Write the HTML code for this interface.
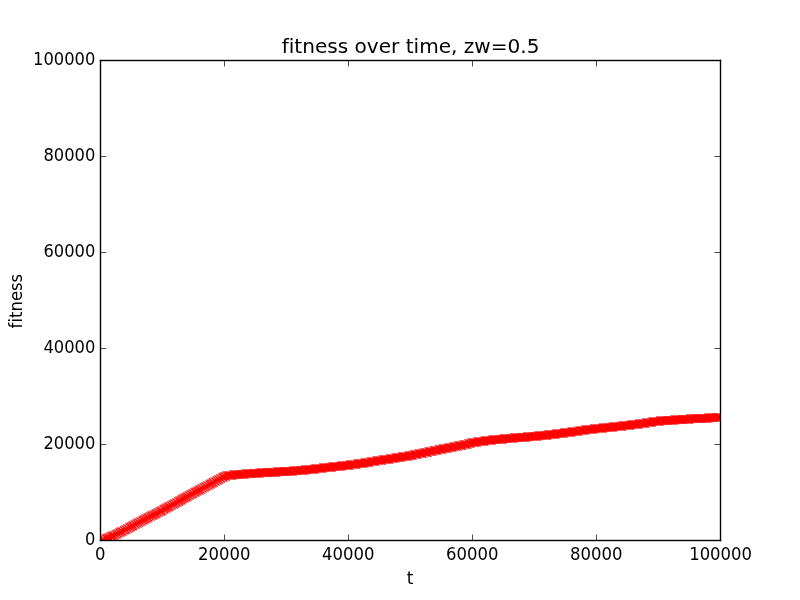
<!DOCTYPE html>
<html><head><meta charset="utf-8"><title>fitness over time, zw=0.5</title>
<style>html,body{margin:0;padding:0;background:#fff;overflow:hidden}svg{display:block;will-change:transform}text{font-family:'DejaVu Sans','Liberation Sans',sans-serif;fill:#000;font-variant-ligatures:none;font-feature-settings:'liga' 0,'kern' 1}</style>
</head><body>
<svg width="800" height="600" viewBox="0 0 800 600">
<rect width="800" height="600" fill="#fff"/>
<defs><clipPath id="c"><rect x="100" y="60" width="620" height="480"/></clipPath><g id="s" fill="#f00"><path d="M0 0h1v1h-1z"/><path d="M-3 -3h1v1h-1zM3 -3h1v1h-1zM-2 -2h1v1h-1zM2 -2h1v1h-1zM-1 -1h1v1h-1zM1 -1h1v1h-1zM-1 1h1v1h-1zM1 1h1v1h-1zM-2 2h1v1h-1zM2 2h1v1h-1zM-3 3h1v1h-1zM3 3h1v1h-1z" fill-opacity="0.7451"/><path d="M-4 -4h1v1h-1zM4 -4h1v1h-1zM-4 4h1v1h-1zM4 4h1v1h-1z" fill-opacity="0.3725"/><path d="M0 -1h1v1h-1zM-1 0h1v1h-1zM1 0h1v1h-1zM0 1h1v1h-1z" fill-opacity="0.2471"/><path d="M-3 -4h1v1h-1zM3 -4h1v1h-1zM-4 -3h1v1h-1zM-2 -3h1v1h-1zM2 -3h1v1h-1zM4 -3h1v1h-1zM-3 -2h1v1h-1zM-1 -2h1v1h-1zM1 -2h1v1h-1zM3 -2h1v1h-1zM-2 -1h1v1h-1zM2 -1h1v1h-1zM-2 1h1v1h-1zM2 1h1v1h-1zM-3 2h1v1h-1zM-1 2h1v1h-1zM1 2h1v1h-1zM3 2h1v1h-1zM-4 3h1v1h-1zM-2 3h1v1h-1zM2 3h1v1h-1zM4 3h1v1h-1zM-3 4h1v1h-1zM3 4h1v1h-1z" fill-opacity="0.1255"/></g></defs>
<g clip-path="url(#c)" shape-rendering="crispEdges"><use href="#s" x="100" y="541"/><use href="#s" x="101" y="540"/><use href="#s" x="101" y="540"/><use href="#s" x="102" y="540"/><use href="#s" x="102" y="539"/><use href="#s" x="103" y="539"/><use href="#s" x="104" y="539"/><use href="#s" x="104" y="539"/><use href="#s" x="105" y="538"/><use href="#s" x="106" y="538"/><use href="#s" x="106" y="538"/><use href="#s" x="107" y="538"/><use href="#s" x="107" y="537"/><use href="#s" x="108" y="537"/><use href="#s" x="109" y="537"/><use href="#s" x="109" y="537"/><use href="#s" x="110" y="536"/><use href="#s" x="111" y="536"/><use href="#s" x="111" y="536"/><use href="#s" x="112" y="536"/><use href="#s" x="112" y="535"/><use href="#s" x="113" y="535"/><use href="#s" x="114" y="535"/><use href="#s" x="114" y="535"/><use href="#s" x="115" y="534"/><use href="#s" x="116" y="534"/><use href="#s" x="116" y="534"/><use href="#s" x="117" y="533"/><use href="#s" x="117" y="533"/><use href="#s" x="118" y="533"/><use href="#s" x="119" y="532"/><use href="#s" x="119" y="532"/><use href="#s" x="120" y="532"/><use href="#s" x="120" y="531"/><use href="#s" x="121" y="531"/><use href="#s" x="122" y="531"/><use href="#s" x="122" y="531"/><use href="#s" x="123" y="530"/><use href="#s" x="124" y="530"/><use href="#s" x="124" y="530"/><use href="#s" x="125" y="529"/><use href="#s" x="125" y="529"/><use href="#s" x="126" y="529"/><use href="#s" x="127" y="528"/><use href="#s" x="127" y="528"/><use href="#s" x="128" y="528"/><use href="#s" x="129" y="527"/><use href="#s" x="129" y="527"/><use href="#s" x="130" y="527"/><use href="#s" x="130" y="526"/><use href="#s" x="131" y="526"/><use href="#s" x="132" y="526"/><use href="#s" x="132" y="525"/><use href="#s" x="133" y="525"/><use href="#s" x="133" y="525"/><use href="#s" x="134" y="524"/><use href="#s" x="135" y="524"/><use href="#s" x="135" y="524"/><use href="#s" x="136" y="523"/><use href="#s" x="137" y="523"/><use href="#s" x="137" y="523"/><use href="#s" x="138" y="522"/><use href="#s" x="138" y="522"/><use href="#s" x="139" y="522"/><use href="#s" x="140" y="521"/><use href="#s" x="140" y="521"/><use href="#s" x="141" y="521"/><use href="#s" x="142" y="520"/><use href="#s" x="142" y="520"/><use href="#s" x="143" y="520"/><use href="#s" x="143" y="519"/><use href="#s" x="144" y="519"/><use href="#s" x="145" y="519"/><use href="#s" x="145" y="518"/><use href="#s" x="146" y="518"/><use href="#s" x="147" y="518"/><use href="#s" x="147" y="517"/><use href="#s" x="148" y="517"/><use href="#s" x="148" y="517"/><use href="#s" x="149" y="516"/><use href="#s" x="150" y="516"/><use href="#s" x="150" y="516"/><use href="#s" x="151" y="515"/><use href="#s" x="151" y="515"/><use href="#s" x="152" y="515"/><use href="#s" x="153" y="515"/><use href="#s" x="153" y="514"/><use href="#s" x="154" y="514"/><use href="#s" x="155" y="514"/><use href="#s" x="155" y="513"/><use href="#s" x="156" y="513"/><use href="#s" x="156" y="513"/><use href="#s" x="157" y="512"/><use href="#s" x="158" y="512"/><use href="#s" x="158" y="512"/><use href="#s" x="159" y="511"/><use href="#s" x="160" y="511"/><use href="#s" x="160" y="511"/><use href="#s" x="161" y="511"/><use href="#s" x="161" y="510"/><use href="#s" x="162" y="510"/><use href="#s" x="163" y="509"/><use href="#s" x="163" y="509"/><use href="#s" x="164" y="509"/><use href="#s" x="164" y="508"/><use href="#s" x="165" y="508"/><use href="#s" x="166" y="508"/><use href="#s" x="166" y="507"/><use href="#s" x="167" y="507"/><use href="#s" x="168" y="507"/><use href="#s" x="168" y="506"/><use href="#s" x="169" y="506"/><use href="#s" x="169" y="506"/><use href="#s" x="170" y="505"/><use href="#s" x="171" y="505"/><use href="#s" x="171" y="505"/><use href="#s" x="172" y="504"/><use href="#s" x="173" y="504"/><use href="#s" x="173" y="504"/><use href="#s" x="174" y="503"/><use href="#s" x="174" y="503"/><use href="#s" x="175" y="503"/><use href="#s" x="176" y="502"/><use href="#s" x="176" y="502"/><use href="#s" x="177" y="502"/><use href="#s" x="178" y="501"/><use href="#s" x="178" y="501"/><use href="#s" x="179" y="501"/><use href="#s" x="179" y="500"/><use href="#s" x="180" y="500"/><use href="#s" x="181" y="500"/><use href="#s" x="181" y="499"/><use href="#s" x="182" y="499"/><use href="#s" x="182" y="498"/><use href="#s" x="183" y="498"/><use href="#s" x="184" y="498"/><use href="#s" x="184" y="497"/><use href="#s" x="185" y="497"/><use href="#s" x="186" y="497"/><use href="#s" x="186" y="496"/><use href="#s" x="187" y="496"/><use href="#s" x="187" y="496"/><use href="#s" x="188" y="495"/><use href="#s" x="189" y="495"/><use href="#s" x="189" y="495"/><use href="#s" x="190" y="494"/><use href="#s" x="191" y="494"/><use href="#s" x="191" y="494"/><use href="#s" x="192" y="493"/><use href="#s" x="192" y="493"/><use href="#s" x="193" y="493"/><use href="#s" x="194" y="492"/><use href="#s" x="194" y="492"/><use href="#s" x="195" y="492"/><use href="#s" x="195" y="491"/><use href="#s" x="196" y="491"/><use href="#s" x="197" y="491"/><use href="#s" x="197" y="490"/><use href="#s" x="198" y="490"/><use href="#s" x="199" y="490"/><use href="#s" x="199" y="489"/><use href="#s" x="200" y="489"/><use href="#s" x="200" y="489"/><use href="#s" x="201" y="488"/><use href="#s" x="202" y="488"/><use href="#s" x="202" y="488"/><use href="#s" x="203" y="487"/><use href="#s" x="204" y="487"/><use href="#s" x="204" y="487"/><use href="#s" x="205" y="486"/><use href="#s" x="205" y="486"/><use href="#s" x="206" y="486"/><use href="#s" x="207" y="485"/><use href="#s" x="207" y="485"/><use href="#s" x="208" y="485"/><use href="#s" x="209" y="484"/><use href="#s" x="209" y="484"/><use href="#s" x="210" y="484"/><use href="#s" x="210" y="483"/><use href="#s" x="211" y="483"/><use href="#s" x="212" y="483"/><use href="#s" x="212" y="482"/><use href="#s" x="213" y="482"/><use href="#s" x="213" y="482"/><use href="#s" x="214" y="481"/><use href="#s" x="215" y="481"/><use href="#s" x="215" y="481"/><use href="#s" x="216" y="480"/><use href="#s" x="217" y="480"/><use href="#s" x="217" y="480"/><use href="#s" x="218" y="479"/><use href="#s" x="218" y="479"/><use href="#s" x="219" y="479"/><use href="#s" x="220" y="478"/><use href="#s" x="220" y="478"/><use href="#s" x="221" y="478"/><use href="#s" x="222" y="477"/><use href="#s" x="222" y="477"/><use href="#s" x="223" y="477"/><use href="#s" x="223" y="476"/><use href="#s" x="224" y="476"/><use href="#s" x="225" y="476"/><use href="#s" x="225" y="476"/><use href="#s" x="226" y="475"/><use href="#s" x="226" y="475"/><use href="#s" x="227" y="475"/><use href="#s" x="228" y="475"/><use href="#s" x="228" y="475"/><use href="#s" x="229" y="475"/><use href="#s" x="230" y="475"/><use href="#s" x="230" y="475"/><use href="#s" x="231" y="475"/><use href="#s" x="231" y="475"/><use href="#s" x="232" y="475"/><use href="#s" x="233" y="474"/><use href="#s" x="233" y="474"/><use href="#s" x="234" y="474"/><use href="#s" x="235" y="474"/><use href="#s" x="235" y="474"/><use href="#s" x="236" y="474"/><use href="#s" x="236" y="474"/><use href="#s" x="237" y="474"/><use href="#s" x="238" y="474"/><use href="#s" x="238" y="474"/><use href="#s" x="239" y="474"/><use href="#s" x="240" y="474"/><use href="#s" x="240" y="474"/><use href="#s" x="241" y="474"/><use href="#s" x="241" y="474"/><use href="#s" x="242" y="474"/><use href="#s" x="243" y="474"/><use href="#s" x="243" y="474"/><use href="#s" x="244" y="474"/><use href="#s" x="244" y="474"/><use href="#s" x="245" y="473"/><use href="#s" x="246" y="473"/><use href="#s" x="246" y="473"/><use href="#s" x="247" y="473"/><use href="#s" x="248" y="473"/><use href="#s" x="248" y="473"/><use href="#s" x="249" y="473"/><use href="#s" x="249" y="473"/><use href="#s" x="250" y="473"/><use href="#s" x="251" y="473"/><use href="#s" x="251" y="473"/><use href="#s" x="252" y="473"/><use href="#s" x="253" y="473"/><use href="#s" x="253" y="473"/><use href="#s" x="254" y="473"/><use href="#s" x="254" y="473"/><use href="#s" x="255" y="473"/><use href="#s" x="256" y="473"/><use href="#s" x="256" y="473"/><use href="#s" x="257" y="473"/><use href="#s" x="257" y="473"/><use href="#s" x="258" y="473"/><use href="#s" x="259" y="473"/><use href="#s" x="259" y="472"/><use href="#s" x="260" y="472"/><use href="#s" x="261" y="472"/><use href="#s" x="261" y="472"/><use href="#s" x="262" y="472"/><use href="#s" x="262" y="472"/><use href="#s" x="263" y="472"/><use href="#s" x="264" y="472"/><use href="#s" x="264" y="472"/><use href="#s" x="265" y="472"/><use href="#s" x="266" y="472"/><use href="#s" x="266" y="472"/><use href="#s" x="267" y="472"/><use href="#s" x="267" y="472"/><use href="#s" x="268" y="472"/><use href="#s" x="269" y="472"/><use href="#s" x="269" y="472"/><use href="#s" x="270" y="472"/><use href="#s" x="271" y="472"/><use href="#s" x="271" y="472"/><use href="#s" x="272" y="472"/><use href="#s" x="272" y="472"/><use href="#s" x="273" y="472"/><use href="#s" x="274" y="472"/><use href="#s" x="274" y="472"/><use href="#s" x="275" y="472"/><use href="#s" x="275" y="472"/><use href="#s" x="276" y="472"/><use href="#s" x="277" y="471"/><use href="#s" x="277" y="471"/><use href="#s" x="278" y="471"/><use href="#s" x="279" y="471"/><use href="#s" x="279" y="471"/><use href="#s" x="280" y="471"/><use href="#s" x="280" y="471"/><use href="#s" x="281" y="471"/><use href="#s" x="282" y="471"/><use href="#s" x="282" y="471"/><use href="#s" x="283" y="471"/><use href="#s" x="284" y="471"/><use href="#s" x="284" y="471"/><use href="#s" x="285" y="471"/><use href="#s" x="285" y="471"/><use href="#s" x="286" y="471"/><use href="#s" x="287" y="471"/><use href="#s" x="287" y="471"/><use href="#s" x="288" y="471"/><use href="#s" x="288" y="471"/><use href="#s" x="289" y="471"/><use href="#s" x="290" y="471"/><use href="#s" x="290" y="471"/><use href="#s" x="291" y="471"/><use href="#s" x="292" y="471"/><use href="#s" x="292" y="471"/><use href="#s" x="293" y="470"/><use href="#s" x="293" y="470"/><use href="#s" x="294" y="470"/><use href="#s" x="295" y="470"/><use href="#s" x="295" y="470"/><use href="#s" x="296" y="470"/><use href="#s" x="297" y="470"/><use href="#s" x="297" y="470"/><use href="#s" x="298" y="470"/><use href="#s" x="298" y="470"/><use href="#s" x="299" y="470"/><use href="#s" x="300" y="470"/><use href="#s" x="300" y="470"/><use href="#s" x="301" y="470"/><use href="#s" x="302" y="470"/><use href="#s" x="302" y="470"/><use href="#s" x="303" y="470"/><use href="#s" x="303" y="470"/><use href="#s" x="304" y="470"/><use href="#s" x="305" y="469"/><use href="#s" x="305" y="469"/><use href="#s" x="306" y="469"/><use href="#s" x="306" y="469"/><use href="#s" x="307" y="469"/><use href="#s" x="308" y="469"/><use href="#s" x="308" y="469"/><use href="#s" x="309" y="469"/><use href="#s" x="310" y="469"/><use href="#s" x="310" y="469"/><use href="#s" x="311" y="469"/><use href="#s" x="311" y="469"/><use href="#s" x="312" y="469"/><use href="#s" x="313" y="469"/><use href="#s" x="313" y="469"/><use href="#s" x="314" y="469"/><use href="#s" x="315" y="468"/><use href="#s" x="315" y="468"/><use href="#s" x="316" y="468"/><use href="#s" x="316" y="468"/><use href="#s" x="317" y="468"/><use href="#s" x="318" y="468"/><use href="#s" x="318" y="468"/><use href="#s" x="319" y="468"/><use href="#s" x="319" y="468"/><use href="#s" x="320" y="468"/><use href="#s" x="321" y="468"/><use href="#s" x="321" y="468"/><use href="#s" x="322" y="468"/><use href="#s" x="323" y="467"/><use href="#s" x="323" y="467"/><use href="#s" x="324" y="467"/><use href="#s" x="324" y="467"/><use href="#s" x="325" y="467"/><use href="#s" x="326" y="467"/><use href="#s" x="326" y="467"/><use href="#s" x="327" y="467"/><use href="#s" x="328" y="467"/><use href="#s" x="328" y="467"/><use href="#s" x="329" y="467"/><use href="#s" x="329" y="467"/><use href="#s" x="330" y="467"/><use href="#s" x="331" y="467"/><use href="#s" x="331" y="467"/><use href="#s" x="332" y="466"/><use href="#s" x="333" y="466"/><use href="#s" x="333" y="466"/><use href="#s" x="334" y="466"/><use href="#s" x="334" y="466"/><use href="#s" x="335" y="466"/><use href="#s" x="336" y="466"/><use href="#s" x="336" y="466"/><use href="#s" x="337" y="466"/><use href="#s" x="337" y="466"/><use href="#s" x="338" y="466"/><use href="#s" x="339" y="466"/><use href="#s" x="339" y="466"/><use href="#s" x="340" y="466"/><use href="#s" x="341" y="466"/><use href="#s" x="341" y="465"/><use href="#s" x="342" y="465"/><use href="#s" x="342" y="465"/><use href="#s" x="343" y="465"/><use href="#s" x="344" y="465"/><use href="#s" x="344" y="465"/><use href="#s" x="345" y="465"/><use href="#s" x="346" y="465"/><use href="#s" x="346" y="465"/><use href="#s" x="347" y="465"/><use href="#s" x="347" y="465"/><use href="#s" x="348" y="465"/><use href="#s" x="349" y="465"/><use href="#s" x="349" y="465"/><use href="#s" x="350" y="464"/><use href="#s" x="350" y="464"/><use href="#s" x="351" y="464"/><use href="#s" x="352" y="464"/><use href="#s" x="352" y="464"/><use href="#s" x="353" y="464"/><use href="#s" x="354" y="464"/><use href="#s" x="354" y="464"/><use href="#s" x="355" y="464"/><use href="#s" x="355" y="464"/><use href="#s" x="356" y="464"/><use href="#s" x="357" y="463"/><use href="#s" x="357" y="463"/><use href="#s" x="358" y="463"/><use href="#s" x="359" y="463"/><use href="#s" x="359" y="463"/><use href="#s" x="360" y="463"/><use href="#s" x="360" y="463"/><use href="#s" x="361" y="463"/><use href="#s" x="362" y="463"/><use href="#s" x="362" y="463"/><use href="#s" x="363" y="463"/><use href="#s" x="364" y="463"/><use href="#s" x="364" y="462"/><use href="#s" x="365" y="462"/><use href="#s" x="365" y="462"/><use href="#s" x="366" y="462"/><use href="#s" x="367" y="462"/><use href="#s" x="367" y="462"/><use href="#s" x="368" y="462"/><use href="#s" x="368" y="462"/><use href="#s" x="369" y="462"/><use href="#s" x="370" y="461"/><use href="#s" x="370" y="461"/><use href="#s" x="371" y="461"/><use href="#s" x="372" y="461"/><use href="#s" x="372" y="461"/><use href="#s" x="373" y="461"/><use href="#s" x="373" y="461"/><use href="#s" x="374" y="461"/><use href="#s" x="375" y="461"/><use href="#s" x="375" y="461"/><use href="#s" x="376" y="460"/><use href="#s" x="377" y="460"/><use href="#s" x="377" y="460"/><use href="#s" x="378" y="460"/><use href="#s" x="378" y="460"/><use href="#s" x="379" y="460"/><use href="#s" x="380" y="460"/><use href="#s" x="380" y="460"/><use href="#s" x="381" y="460"/><use href="#s" x="381" y="460"/><use href="#s" x="382" y="459"/><use href="#s" x="383" y="459"/><use href="#s" x="383" y="459"/><use href="#s" x="384" y="459"/><use href="#s" x="385" y="459"/><use href="#s" x="385" y="459"/><use href="#s" x="386" y="459"/><use href="#s" x="386" y="459"/><use href="#s" x="387" y="459"/><use href="#s" x="388" y="459"/><use href="#s" x="388" y="459"/><use href="#s" x="389" y="459"/><use href="#s" x="390" y="458"/><use href="#s" x="390" y="458"/><use href="#s" x="391" y="458"/><use href="#s" x="391" y="458"/><use href="#s" x="392" y="458"/><use href="#s" x="393" y="458"/><use href="#s" x="393" y="458"/><use href="#s" x="394" y="458"/><use href="#s" x="395" y="458"/><use href="#s" x="395" y="457"/><use href="#s" x="396" y="457"/><use href="#s" x="396" y="457"/><use href="#s" x="397" y="457"/><use href="#s" x="398" y="457"/><use href="#s" x="398" y="457"/><use href="#s" x="399" y="457"/><use href="#s" x="399" y="457"/><use href="#s" x="400" y="457"/><use href="#s" x="401" y="457"/><use href="#s" x="401" y="456"/><use href="#s" x="402" y="456"/><use href="#s" x="403" y="456"/><use href="#s" x="403" y="456"/><use href="#s" x="404" y="456"/><use href="#s" x="404" y="456"/><use href="#s" x="405" y="456"/><use href="#s" x="406" y="456"/><use href="#s" x="406" y="456"/><use href="#s" x="407" y="456"/><use href="#s" x="408" y="456"/><use href="#s" x="408" y="455"/><use href="#s" x="409" y="455"/><use href="#s" x="409" y="455"/><use href="#s" x="410" y="455"/><use href="#s" x="411" y="455"/><use href="#s" x="411" y="455"/><use href="#s" x="412" y="455"/><use href="#s" x="412" y="455"/><use href="#s" x="413" y="454"/><use href="#s" x="414" y="454"/><use href="#s" x="414" y="454"/><use href="#s" x="415" y="454"/><use href="#s" x="416" y="454"/><use href="#s" x="416" y="454"/><use href="#s" x="417" y="454"/><use href="#s" x="417" y="454"/><use href="#s" x="418" y="453"/><use href="#s" x="419" y="453"/><use href="#s" x="419" y="453"/><use href="#s" x="420" y="453"/><use href="#s" x="421" y="453"/><use href="#s" x="421" y="453"/><use href="#s" x="422" y="453"/><use href="#s" x="422" y="453"/><use href="#s" x="423" y="452"/><use href="#s" x="424" y="452"/><use href="#s" x="424" y="452"/><use href="#s" x="425" y="452"/><use href="#s" x="426" y="452"/><use href="#s" x="426" y="452"/><use href="#s" x="427" y="452"/><use href="#s" x="427" y="452"/><use href="#s" x="428" y="451"/><use href="#s" x="429" y="451"/><use href="#s" x="429" y="451"/><use href="#s" x="430" y="451"/><use href="#s" x="430" y="451"/><use href="#s" x="431" y="451"/><use href="#s" x="432" y="451"/><use href="#s" x="432" y="451"/><use href="#s" x="433" y="450"/><use href="#s" x="434" y="450"/><use href="#s" x="434" y="450"/><use href="#s" x="435" y="450"/><use href="#s" x="435" y="450"/><use href="#s" x="436" y="450"/><use href="#s" x="437" y="450"/><use href="#s" x="437" y="450"/><use href="#s" x="438" y="449"/><use href="#s" x="439" y="449"/><use href="#s" x="439" y="449"/><use href="#s" x="440" y="449"/><use href="#s" x="440" y="449"/><use href="#s" x="441" y="449"/><use href="#s" x="442" y="449"/><use href="#s" x="442" y="448"/><use href="#s" x="443" y="448"/><use href="#s" x="443" y="448"/><use href="#s" x="444" y="448"/><use href="#s" x="445" y="448"/><use href="#s" x="445" y="448"/><use href="#s" x="446" y="448"/><use href="#s" x="447" y="448"/><use href="#s" x="447" y="448"/><use href="#s" x="448" y="447"/><use href="#s" x="448" y="447"/><use href="#s" x="449" y="447"/><use href="#s" x="450" y="447"/><use href="#s" x="450" y="447"/><use href="#s" x="451" y="447"/><use href="#s" x="452" y="447"/><use href="#s" x="452" y="447"/><use href="#s" x="453" y="446"/><use href="#s" x="453" y="446"/><use href="#s" x="454" y="446"/><use href="#s" x="455" y="446"/><use href="#s" x="455" y="446"/><use href="#s" x="456" y="446"/><use href="#s" x="457" y="446"/><use href="#s" x="457" y="446"/><use href="#s" x="458" y="445"/><use href="#s" x="458" y="445"/><use href="#s" x="459" y="445"/><use href="#s" x="460" y="445"/><use href="#s" x="460" y="445"/><use href="#s" x="461" y="445"/><use href="#s" x="461" y="445"/><use href="#s" x="462" y="445"/><use href="#s" x="463" y="444"/><use href="#s" x="463" y="444"/><use href="#s" x="464" y="444"/><use href="#s" x="465" y="444"/><use href="#s" x="465" y="444"/><use href="#s" x="466" y="444"/><use href="#s" x="466" y="444"/><use href="#s" x="467" y="444"/><use href="#s" x="468" y="443"/><use href="#s" x="468" y="443"/><use href="#s" x="469" y="443"/><use href="#s" x="470" y="443"/><use href="#s" x="470" y="443"/><use href="#s" x="471" y="442"/><use href="#s" x="471" y="442"/><use href="#s" x="472" y="442"/><use href="#s" x="473" y="442"/><use href="#s" x="473" y="442"/><use href="#s" x="474" y="442"/><use href="#s" x="474" y="442"/><use href="#s" x="475" y="442"/><use href="#s" x="476" y="442"/><use href="#s" x="476" y="442"/><use href="#s" x="477" y="441"/><use href="#s" x="478" y="441"/><use href="#s" x="478" y="441"/><use href="#s" x="479" y="441"/><use href="#s" x="479" y="441"/><use href="#s" x="480" y="441"/><use href="#s" x="481" y="441"/><use href="#s" x="481" y="441"/><use href="#s" x="482" y="441"/><use href="#s" x="483" y="441"/><use href="#s" x="483" y="441"/><use href="#s" x="484" y="441"/><use href="#s" x="484" y="440"/><use href="#s" x="485" y="440"/><use href="#s" x="486" y="440"/><use href="#s" x="486" y="440"/><use href="#s" x="487" y="440"/><use href="#s" x="488" y="440"/><use href="#s" x="488" y="440"/><use href="#s" x="489" y="440"/><use href="#s" x="489" y="440"/><use href="#s" x="490" y="440"/><use href="#s" x="491" y="440"/><use href="#s" x="491" y="440"/><use href="#s" x="492" y="439"/><use href="#s" x="492" y="439"/><use href="#s" x="493" y="439"/><use href="#s" x="494" y="439"/><use href="#s" x="494" y="439"/><use href="#s" x="495" y="439"/><use href="#s" x="496" y="439"/><use href="#s" x="496" y="439"/><use href="#s" x="497" y="439"/><use href="#s" x="497" y="439"/><use href="#s" x="498" y="439"/><use href="#s" x="499" y="439"/><use href="#s" x="499" y="439"/><use href="#s" x="500" y="439"/><use href="#s" x="501" y="439"/><use href="#s" x="501" y="439"/><use href="#s" x="502" y="439"/><use href="#s" x="502" y="439"/><use href="#s" x="503" y="438"/><use href="#s" x="504" y="438"/><use href="#s" x="504" y="438"/><use href="#s" x="505" y="438"/><use href="#s" x="505" y="438"/><use href="#s" x="506" y="438"/><use href="#s" x="507" y="438"/><use href="#s" x="507" y="438"/><use href="#s" x="508" y="438"/><use href="#s" x="509" y="438"/><use href="#s" x="509" y="438"/><use href="#s" x="510" y="438"/><use href="#s" x="510" y="438"/><use href="#s" x="511" y="438"/><use href="#s" x="512" y="438"/><use href="#s" x="512" y="438"/><use href="#s" x="513" y="438"/><use href="#s" x="514" y="437"/><use href="#s" x="514" y="437"/><use href="#s" x="515" y="437"/><use href="#s" x="515" y="437"/><use href="#s" x="516" y="437"/><use href="#s" x="517" y="437"/><use href="#s" x="517" y="437"/><use href="#s" x="518" y="437"/><use href="#s" x="519" y="437"/><use href="#s" x="519" y="437"/><use href="#s" x="520" y="437"/><use href="#s" x="520" y="437"/><use href="#s" x="521" y="437"/><use href="#s" x="522" y="437"/><use href="#s" x="522" y="437"/><use href="#s" x="523" y="437"/><use href="#s" x="523" y="437"/><use href="#s" x="524" y="437"/><use href="#s" x="525" y="437"/><use href="#s" x="525" y="437"/><use href="#s" x="526" y="437"/><use href="#s" x="527" y="436"/><use href="#s" x="527" y="436"/><use href="#s" x="528" y="436"/><use href="#s" x="528" y="436"/><use href="#s" x="529" y="436"/><use href="#s" x="530" y="436"/><use href="#s" x="530" y="436"/><use href="#s" x="531" y="436"/><use href="#s" x="532" y="436"/><use href="#s" x="532" y="436"/><use href="#s" x="533" y="436"/><use href="#s" x="533" y="436"/><use href="#s" x="534" y="436"/><use href="#s" x="535" y="436"/><use href="#s" x="535" y="436"/><use href="#s" x="536" y="436"/><use href="#s" x="536" y="436"/><use href="#s" x="537" y="436"/><use href="#s" x="538" y="435"/><use href="#s" x="538" y="435"/><use href="#s" x="539" y="435"/><use href="#s" x="540" y="435"/><use href="#s" x="540" y="435"/><use href="#s" x="541" y="435"/><use href="#s" x="541" y="435"/><use href="#s" x="542" y="435"/><use href="#s" x="543" y="435"/><use href="#s" x="543" y="435"/><use href="#s" x="544" y="435"/><use href="#s" x="545" y="435"/><use href="#s" x="545" y="435"/><use href="#s" x="546" y="435"/><use href="#s" x="546" y="435"/><use href="#s" x="547" y="435"/><use href="#s" x="548" y="434"/><use href="#s" x="548" y="434"/><use href="#s" x="549" y="434"/><use href="#s" x="550" y="434"/><use href="#s" x="550" y="434"/><use href="#s" x="551" y="434"/><use href="#s" x="551" y="434"/><use href="#s" x="552" y="434"/><use href="#s" x="553" y="434"/><use href="#s" x="553" y="434"/><use href="#s" x="554" y="434"/><use href="#s" x="554" y="434"/><use href="#s" x="555" y="434"/><use href="#s" x="556" y="433"/><use href="#s" x="556" y="433"/><use href="#s" x="557" y="433"/><use href="#s" x="558" y="433"/><use href="#s" x="558" y="433"/><use href="#s" x="559" y="433"/><use href="#s" x="559" y="433"/><use href="#s" x="560" y="433"/><use href="#s" x="561" y="433"/><use href="#s" x="561" y="433"/><use href="#s" x="562" y="433"/><use href="#s" x="563" y="433"/><use href="#s" x="563" y="433"/><use href="#s" x="564" y="432"/><use href="#s" x="564" y="432"/><use href="#s" x="565" y="432"/><use href="#s" x="566" y="432"/><use href="#s" x="566" y="432"/><use href="#s" x="567" y="432"/><use href="#s" x="567" y="432"/><use href="#s" x="568" y="432"/><use href="#s" x="569" y="432"/><use href="#s" x="569" y="432"/><use href="#s" x="570" y="432"/><use href="#s" x="571" y="432"/><use href="#s" x="571" y="431"/><use href="#s" x="572" y="431"/><use href="#s" x="572" y="431"/><use href="#s" x="573" y="431"/><use href="#s" x="574" y="431"/><use href="#s" x="574" y="431"/><use href="#s" x="575" y="431"/><use href="#s" x="576" y="431"/><use href="#s" x="576" y="431"/><use href="#s" x="577" y="431"/><use href="#s" x="577" y="431"/><use href="#s" x="578" y="431"/><use href="#s" x="579" y="430"/><use href="#s" x="579" y="430"/><use href="#s" x="580" y="430"/><use href="#s" x="581" y="430"/><use href="#s" x="581" y="430"/><use href="#s" x="582" y="430"/><use href="#s" x="582" y="430"/><use href="#s" x="583" y="430"/><use href="#s" x="584" y="430"/><use href="#s" x="584" y="430"/><use href="#s" x="585" y="429"/><use href="#s" x="585" y="429"/><use href="#s" x="586" y="429"/><use href="#s" x="587" y="429"/><use href="#s" x="587" y="429"/><use href="#s" x="588" y="429"/><use href="#s" x="589" y="429"/><use href="#s" x="589" y="429"/><use href="#s" x="590" y="429"/><use href="#s" x="590" y="429"/><use href="#s" x="591" y="429"/><use href="#s" x="592" y="429"/><use href="#s" x="592" y="429"/><use href="#s" x="593" y="429"/><use href="#s" x="594" y="428"/><use href="#s" x="594" y="428"/><use href="#s" x="595" y="428"/><use href="#s" x="595" y="428"/><use href="#s" x="596" y="428"/><use href="#s" x="597" y="428"/><use href="#s" x="597" y="428"/><use href="#s" x="598" y="428"/><use href="#s" x="598" y="428"/><use href="#s" x="599" y="428"/><use href="#s" x="600" y="428"/><use href="#s" x="600" y="428"/><use href="#s" x="601" y="428"/><use href="#s" x="602" y="428"/><use href="#s" x="602" y="428"/><use href="#s" x="603" y="427"/><use href="#s" x="603" y="427"/><use href="#s" x="604" y="427"/><use href="#s" x="605" y="427"/><use href="#s" x="605" y="427"/><use href="#s" x="606" y="427"/><use href="#s" x="607" y="427"/><use href="#s" x="607" y="427"/><use href="#s" x="608" y="427"/><use href="#s" x="608" y="427"/><use href="#s" x="609" y="427"/><use href="#s" x="610" y="427"/><use href="#s" x="610" y="427"/><use href="#s" x="611" y="427"/><use href="#s" x="612" y="427"/><use href="#s" x="612" y="427"/><use href="#s" x="613" y="426"/><use href="#s" x="613" y="426"/><use href="#s" x="614" y="426"/><use href="#s" x="615" y="426"/><use href="#s" x="615" y="426"/><use href="#s" x="616" y="426"/><use href="#s" x="616" y="426"/><use href="#s" x="617" y="426"/><use href="#s" x="618" y="426"/><use href="#s" x="618" y="426"/><use href="#s" x="619" y="426"/><use href="#s" x="620" y="426"/><use href="#s" x="620" y="426"/><use href="#s" x="621" y="426"/><use href="#s" x="621" y="426"/><use href="#s" x="622" y="425"/><use href="#s" x="623" y="425"/><use href="#s" x="623" y="425"/><use href="#s" x="624" y="425"/><use href="#s" x="625" y="425"/><use href="#s" x="625" y="425"/><use href="#s" x="626" y="425"/><use href="#s" x="626" y="425"/><use href="#s" x="627" y="425"/><use href="#s" x="628" y="425"/><use href="#s" x="628" y="425"/><use href="#s" x="629" y="425"/><use href="#s" x="629" y="425"/><use href="#s" x="630" y="425"/><use href="#s" x="631" y="424"/><use href="#s" x="631" y="424"/><use href="#s" x="632" y="424"/><use href="#s" x="633" y="424"/><use href="#s" x="633" y="424"/><use href="#s" x="634" y="424"/><use href="#s" x="634" y="424"/><use href="#s" x="635" y="424"/><use href="#s" x="636" y="424"/><use href="#s" x="636" y="424"/><use href="#s" x="637" y="424"/><use href="#s" x="638" y="424"/><use href="#s" x="638" y="424"/><use href="#s" x="639" y="423"/><use href="#s" x="639" y="423"/><use href="#s" x="640" y="423"/><use href="#s" x="641" y="423"/><use href="#s" x="641" y="423"/><use href="#s" x="642" y="423"/><use href="#s" x="643" y="423"/><use href="#s" x="643" y="423"/><use href="#s" x="644" y="423"/><use href="#s" x="644" y="423"/><use href="#s" x="645" y="423"/><use href="#s" x="646" y="422"/><use href="#s" x="646" y="422"/><use href="#s" x="647" y="422"/><use href="#s" x="647" y="422"/><use href="#s" x="648" y="422"/><use href="#s" x="649" y="422"/><use href="#s" x="649" y="422"/><use href="#s" x="650" y="422"/><use href="#s" x="651" y="422"/><use href="#s" x="651" y="422"/><use href="#s" x="652" y="421"/><use href="#s" x="652" y="421"/><use href="#s" x="653" y="421"/><use href="#s" x="654" y="421"/><use href="#s" x="654" y="421"/><use href="#s" x="655" y="421"/><use href="#s" x="656" y="421"/><use href="#s" x="656" y="421"/><use href="#s" x="657" y="421"/><use href="#s" x="657" y="421"/><use href="#s" x="658" y="421"/><use href="#s" x="659" y="421"/><use href="#s" x="659" y="421"/><use href="#s" x="660" y="420"/><use href="#s" x="660" y="420"/><use href="#s" x="661" y="420"/><use href="#s" x="662" y="420"/><use href="#s" x="662" y="420"/><use href="#s" x="663" y="420"/><use href="#s" x="664" y="420"/><use href="#s" x="664" y="420"/><use href="#s" x="665" y="420"/><use href="#s" x="665" y="420"/><use href="#s" x="666" y="420"/><use href="#s" x="667" y="420"/><use href="#s" x="667" y="420"/><use href="#s" x="668" y="420"/><use href="#s" x="669" y="420"/><use href="#s" x="669" y="420"/><use href="#s" x="670" y="420"/><use href="#s" x="670" y="420"/><use href="#s" x="671" y="420"/><use href="#s" x="672" y="420"/><use href="#s" x="672" y="420"/><use href="#s" x="673" y="420"/><use href="#s" x="674" y="420"/><use href="#s" x="674" y="419"/><use href="#s" x="675" y="419"/><use href="#s" x="675" y="419"/><use href="#s" x="676" y="419"/><use href="#s" x="677" y="419"/><use href="#s" x="677" y="419"/><use href="#s" x="678" y="419"/><use href="#s" x="678" y="419"/><use href="#s" x="679" y="419"/><use href="#s" x="680" y="419"/><use href="#s" x="680" y="419"/><use href="#s" x="681" y="419"/><use href="#s" x="682" y="419"/><use href="#s" x="682" y="419"/><use href="#s" x="683" y="419"/><use href="#s" x="683" y="419"/><use href="#s" x="684" y="419"/><use href="#s" x="685" y="419"/><use href="#s" x="685" y="419"/><use href="#s" x="686" y="419"/><use href="#s" x="687" y="419"/><use href="#s" x="687" y="419"/><use href="#s" x="688" y="419"/><use href="#s" x="688" y="419"/><use href="#s" x="689" y="419"/><use href="#s" x="690" y="418"/><use href="#s" x="690" y="418"/><use href="#s" x="691" y="418"/><use href="#s" x="691" y="418"/><use href="#s" x="692" y="418"/><use href="#s" x="693" y="418"/><use href="#s" x="693" y="418"/><use href="#s" x="694" y="418"/><use href="#s" x="695" y="418"/><use href="#s" x="695" y="418"/><use href="#s" x="696" y="418"/><use href="#s" x="696" y="418"/><use href="#s" x="697" y="418"/><use href="#s" x="698" y="418"/><use href="#s" x="698" y="418"/><use href="#s" x="699" y="418"/><use href="#s" x="700" y="418"/><use href="#s" x="700" y="418"/><use href="#s" x="701" y="418"/><use href="#s" x="701" y="418"/><use href="#s" x="702" y="418"/><use href="#s" x="703" y="418"/><use href="#s" x="703" y="418"/><use href="#s" x="704" y="418"/><use href="#s" x="705" y="418"/><use href="#s" x="705" y="418"/><use href="#s" x="706" y="418"/><use href="#s" x="706" y="418"/><use href="#s" x="707" y="418"/><use href="#s" x="708" y="418"/><use href="#s" x="708" y="417"/><use href="#s" x="709" y="417"/><use href="#s" x="709" y="417"/><use href="#s" x="710" y="417"/><use href="#s" x="711" y="417"/><use href="#s" x="711" y="417"/><use href="#s" x="712" y="417"/><use href="#s" x="713" y="417"/><use href="#s" x="713" y="417"/><use href="#s" x="714" y="417"/><use href="#s" x="714" y="417"/><use href="#s" x="715" y="417"/><use href="#s" x="716" y="417"/><use href="#s" x="716" y="417"/><use href="#s" x="717" y="417"/><use href="#s" x="718" y="417"/><use href="#s" x="718" y="417"/><use href="#s" x="719" y="417"/><use href="#s" x="719" y="417"/><use href="#s" x="720" y="417"/></g>
<g shape-rendering="crispEdges"><path d="M100 60h1v481h-1z"/><path d="M99 60h1v481h-1z" fill-opacity="0.1961"/><path d="M101 60h1v481h-1z" fill-opacity="0.1961"/><path d="M100 59h1v1h-1z" fill-opacity="0.1961"/><path d="M100 541h1v1h-1z" fill-opacity="0.1961"/><path d="M99 59h1v1h-1z" fill-opacity="0.0392"/><path d="M101 59h1v1h-1z" fill-opacity="0.0392"/><path d="M99 541h1v1h-1z" fill-opacity="0.0392"/><path d="M101 541h1v1h-1z" fill-opacity="0.0392"/><path d="M720 60h1v481h-1z"/><path d="M719 60h1v481h-1z" fill-opacity="0.1961"/><path d="M721 60h1v481h-1z" fill-opacity="0.1961"/><path d="M720 59h1v1h-1z" fill-opacity="0.1961"/><path d="M720 541h1v1h-1z" fill-opacity="0.1961"/><path d="M719 59h1v1h-1z" fill-opacity="0.0392"/><path d="M721 59h1v1h-1z" fill-opacity="0.0392"/><path d="M719 541h1v1h-1z" fill-opacity="0.0392"/><path d="M721 541h1v1h-1z" fill-opacity="0.0392"/><path d="M100 60h621v1h-621z"/><path d="M100 59h621v1h-621z" fill-opacity="0.1961"/><path d="M100 61h621v1h-621z" fill-opacity="0.1961"/><path d="M99 60h1v1h-1z" fill-opacity="0.1961"/><path d="M721 60h1v1h-1z" fill-opacity="0.1961"/><path d="M99 59h1v1h-1z" fill-opacity="0.0392"/><path d="M99 61h1v1h-1z" fill-opacity="0.0392"/><path d="M721 59h1v1h-1z" fill-opacity="0.0392"/><path d="M721 61h1v1h-1z" fill-opacity="0.0392"/><path d="M100 540h621v1h-621z"/><path d="M100 539h621v1h-621z" fill-opacity="0.1961"/><path d="M100 541h621v1h-621z" fill-opacity="0.1961"/><path d="M99 540h1v1h-1z" fill-opacity="0.1961"/><path d="M721 540h1v1h-1z" fill-opacity="0.1961"/><path d="M99 539h1v1h-1z" fill-opacity="0.0392"/><path d="M99 541h1v1h-1z" fill-opacity="0.0392"/><path d="M721 539h1v1h-1z" fill-opacity="0.0392"/><path d="M721 541h1v1h-1z" fill-opacity="0.0392"/><path d="M100 535h1v5h-1z" fill-opacity="0.6980"/><path d="M100 534h1v1h-1z" fill-opacity="0.3490"/><path d="M100 61h1v5h-1z" fill-opacity="0.6980"/><path d="M100 66h1v1h-1z" fill-opacity="0.3490"/><path d="M101 540h5v1h-5z" fill-opacity="0.6980"/><path d="M106 540h1v1h-1z" fill-opacity="0.3490"/><path d="M715 540h5v1h-5z" fill-opacity="0.6980"/><path d="M714 540h1v1h-1z" fill-opacity="0.3490"/><path d="M224 535h1v5h-1z" fill-opacity="0.6980"/><path d="M224 534h1v1h-1z" fill-opacity="0.3490"/><path d="M224 61h1v5h-1z" fill-opacity="0.6980"/><path d="M224 66h1v1h-1z" fill-opacity="0.3490"/><path d="M101 444h5v1h-5z" fill-opacity="0.6980"/><path d="M106 444h1v1h-1z" fill-opacity="0.3490"/><path d="M715 444h5v1h-5z" fill-opacity="0.6980"/><path d="M714 444h1v1h-1z" fill-opacity="0.3490"/><path d="M348 535h1v5h-1z" fill-opacity="0.6980"/><path d="M348 534h1v1h-1z" fill-opacity="0.3490"/><path d="M348 61h1v5h-1z" fill-opacity="0.6980"/><path d="M348 66h1v1h-1z" fill-opacity="0.3490"/><path d="M101 348h5v1h-5z" fill-opacity="0.6980"/><path d="M106 348h1v1h-1z" fill-opacity="0.3490"/><path d="M715 348h5v1h-5z" fill-opacity="0.6980"/><path d="M714 348h1v1h-1z" fill-opacity="0.3490"/><path d="M472 535h1v5h-1z" fill-opacity="0.6980"/><path d="M472 534h1v1h-1z" fill-opacity="0.3490"/><path d="M472 61h1v5h-1z" fill-opacity="0.6980"/><path d="M472 66h1v1h-1z" fill-opacity="0.3490"/><path d="M101 252h5v1h-5z" fill-opacity="0.6980"/><path d="M106 252h1v1h-1z" fill-opacity="0.3490"/><path d="M715 252h5v1h-5z" fill-opacity="0.6980"/><path d="M714 252h1v1h-1z" fill-opacity="0.3490"/><path d="M596 535h1v5h-1z" fill-opacity="0.6980"/><path d="M596 534h1v1h-1z" fill-opacity="0.3490"/><path d="M596 61h1v5h-1z" fill-opacity="0.6980"/><path d="M596 66h1v1h-1z" fill-opacity="0.3490"/><path d="M101 156h5v1h-5z" fill-opacity="0.6980"/><path d="M106 156h1v1h-1z" fill-opacity="0.3490"/><path d="M715 156h5v1h-5z" fill-opacity="0.6980"/><path d="M714 156h1v1h-1z" fill-opacity="0.3490"/><path d="M720 535h1v5h-1z" fill-opacity="0.6980"/><path d="M720 534h1v1h-1z" fill-opacity="0.3490"/><path d="M720 61h1v5h-1z" fill-opacity="0.6980"/><path d="M720 66h1v1h-1z" fill-opacity="0.3490"/><path d="M101 60h5v1h-5z" fill-opacity="0.6980"/><path d="M106 60h1v1h-1z" fill-opacity="0.3490"/><path d="M715 60h5v1h-5z" fill-opacity="0.6980"/><path d="M714 60h1v1h-1z" fill-opacity="0.3490"/></g>
<text transform="translate(100.20 559.72) scale(0.96 1)" font-size="17.167" text-anchor="middle">0</text><text transform="translate(224.20 559.72) scale(0.96 1)" font-size="17.167" text-anchor="middle">20000</text><text transform="translate(348.20 559.72) scale(0.96 1)" font-size="17.167" text-anchor="middle">40000</text><text transform="translate(472.20 559.72) scale(0.96 1)" font-size="17.167" text-anchor="middle">60000</text><text transform="translate(596.20 559.72) scale(0.96 1)" font-size="17.167" text-anchor="middle">80000</text><text transform="translate(720.60 559.72) scale(0.96 1)" font-size="17.167" text-anchor="middle">100000</text><text transform="translate(95.34 544.60) scale(0.96 1)" font-size="17.0" text-anchor="end">0</text><text transform="translate(95.34 448.60) scale(0.96 1)" font-size="17.0" text-anchor="end">20000</text><text transform="translate(95.34 352.60) scale(0.96 1)" font-size="17.0" text-anchor="end">40000</text><text transform="translate(95.34 256.60) scale(0.96 1)" font-size="17.0" text-anchor="end">60000</text><text transform="translate(95.34 160.60) scale(0.96 1)" font-size="17.0" text-anchor="end">80000</text><text transform="translate(95.34 64.60) scale(0.96 1)" font-size="17.0" text-anchor="end">100000</text><text transform="translate(410.00 583.79) scale(0.97 1)" font-size="17.667" text-anchor="middle">t</text><text transform="translate(21.91 301.10) rotate(-90) scale(0.98 1)" font-size="16.834" text-anchor="middle">fitness</text><text transform="translate(410.60 53.06) scale(1.004 1)" font-size="20.0" text-anchor="middle">fitness over time, zw=0.5</text>
</svg>
</body></html>
